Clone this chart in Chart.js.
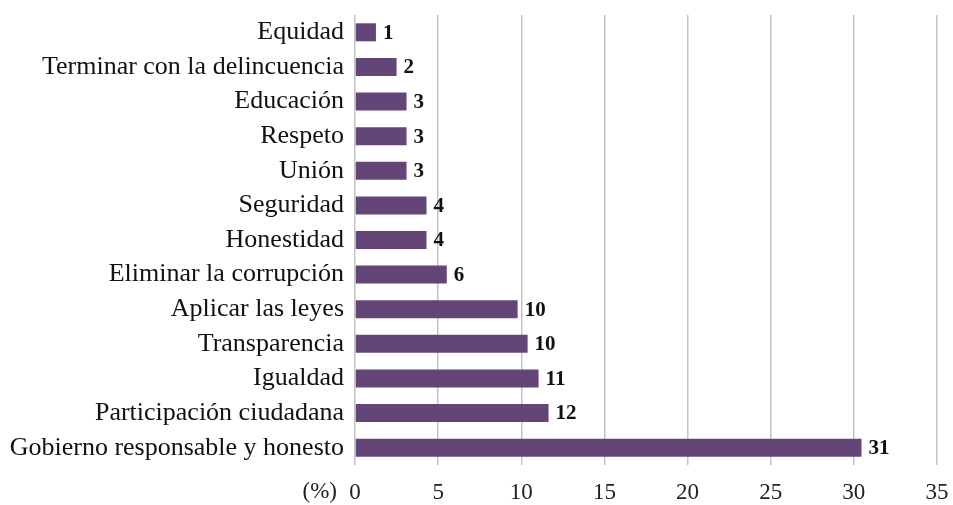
<!DOCTYPE html>
<html>
<head>
<meta charset="utf-8">
<script src="https://cdn.jsdelivr.net/npm/chart.js@4"></script>
<style>
  html, body { margin: 0; padding: 0; background: #ffffff; }
  #wrap { width: 953px; height: 505px; position: relative; }
</style>
</head>
<body>
<div id="wrap"><canvas id="c" width="953" height="505"></canvas></div>
<script>
const categories = [
  "Equidad",
  "Terminar con la delincuencia",
  "Educación",
  "Respeto",
  "Unión",
  "Seguridad",
  "Honestidad",
  "Eliminar la corrupción",
  "Aplicar las leyes",
  "Transparencia",
  "Igualdad",
  "Participación ciudadana",
  "Gobierno responsable y honesto"
];
const values = [1.26, 2.5, 3.1, 3.1, 3.1, 4.3, 4.3, 5.52, 9.78, 10.38, 11.04, 11.64, 30.46];
const valueLabels = ["1", "2", "3", "3", "3", "4", "4", "6", "10", "10", "11", "12", "31"];
const xTicks = [0, 5, 10, 15, 20, 25, 30, 35];
const unitLabel = "(%)";

const SERIF = '"Liberation Serif", "DejaVu Serif", serif';

const extraText = {
  id: 'extraText',
  afterDatasetsDraw(chart) {
    const ctx = chart.ctx;
    const meta = chart.getDatasetMeta(0);
    ctx.save();
    ctx.fillStyle = '#111111';
    ctx.font = 'bold 21px ' + SERIF;
    ctx.textAlign = 'left';
    ctx.textBaseline = 'middle';
    meta.data.forEach((bar, i) => {
      ctx.fillText(valueLabels[i], bar.x + 7, bar.y + 1);
    });
    const xs = chart.scales.x;
    ctx.font = '23px ' + SERIF;
    ctx.textAlign = 'right';
    ctx.fillStyle = '#222222';
    ctx.fillText(unitLabel, xs.getPixelForValue(0) - 18, 492);
    ctx.restore();
  }
};

new Chart(document.getElementById('c'), {
  type: 'bar',
  data: {
    labels: categories,
    datasets: [{
      data: values,
      backgroundColor: '#634677',
      borderWidth: 0,
      barPercentage: 0.52,
      categoryPercentage: 1.0
    }]
  },
  options: {
    indexAxis: 'y',
    responsive: false,
    animation: false,
    layout: { padding: { top: 15, right: 16, left: 0, bottom: 0 } },
    plugins: { legend: { display: false }, tooltip: { enabled: false } },
    scales: {
      x: {
        min: 0,
        max: 35,
        afterBuildTicks(scale) { scale.ticks = xTicks.map(v => ({ value: v })); },
        afterFit(scale) {
          scale.height = 40;
          scale.paddingLeft = 0;
          scale.paddingRight = 0;
        },
        grid: { color: '#c4c4c4', lineWidth: 1.5, drawTicks: false },
        border: { display: false },
        ticks: {
          padding: 14,
          color: '#222222',
          font: { family: SERIF, size: 23 }
        }
      },
      y: {
        afterFit(scale) {
          scale.width = 355;
          scale.paddingTop = 0;
          scale.paddingBottom = 0;
        },
        grid: { display: false, drawTicks: false },
        border: { display: false },
        ticks: {
          padding: 11,
          color: '#111111',
          font: { family: SERIF, size: 26 }
        }
      }
    }
  },
  plugins: [extraText]
});
</script>
</body>
</html>
